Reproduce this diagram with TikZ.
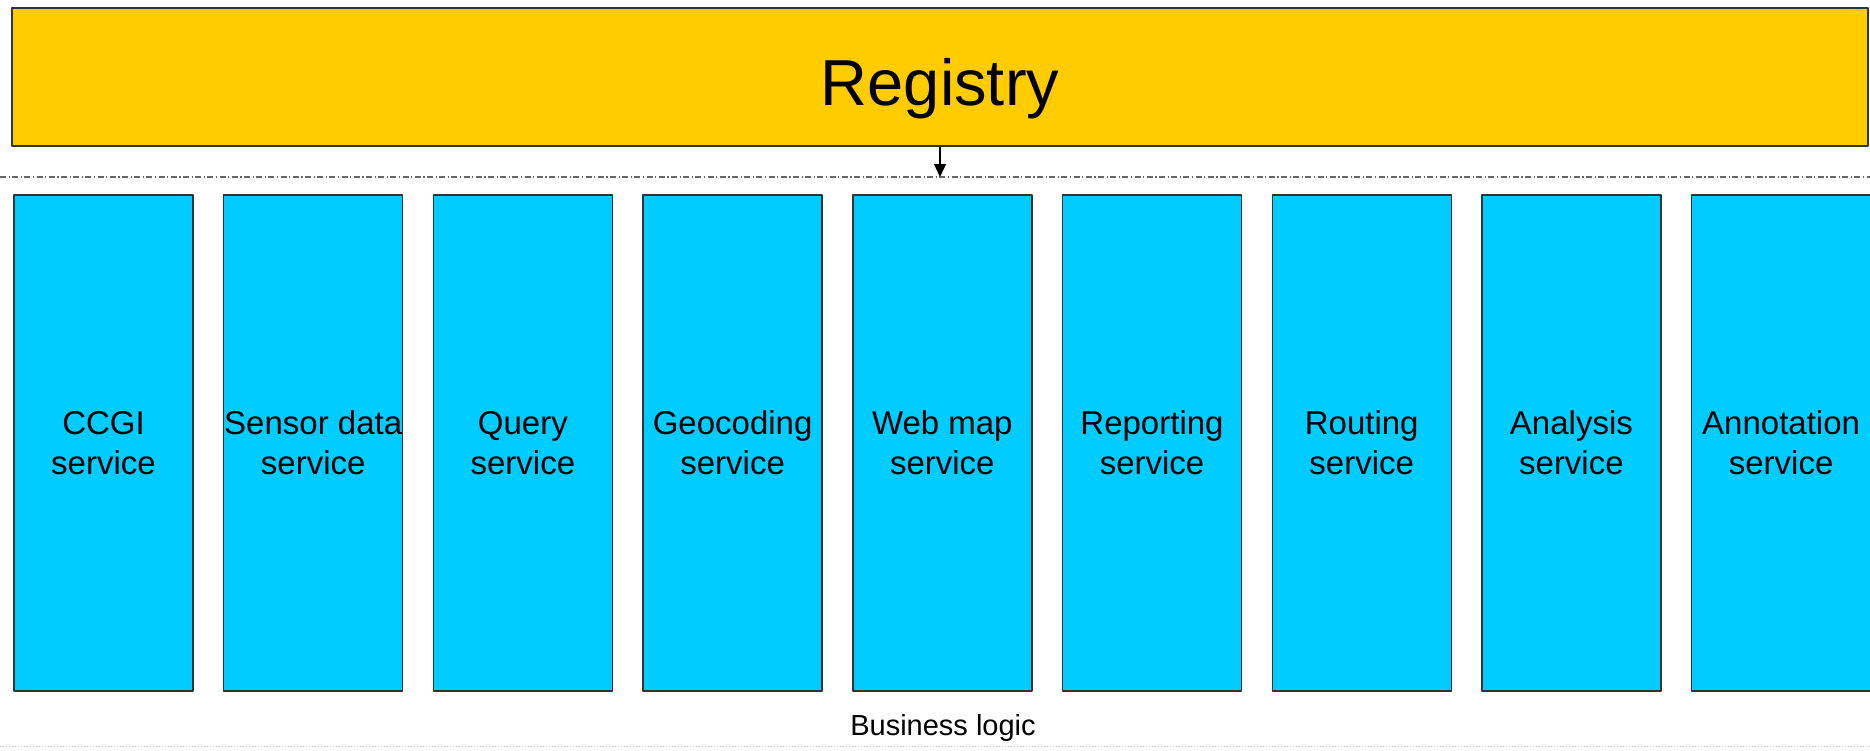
\documentclass[tikz,border=0pt]{standalone}
\usepackage{xcolor}
\usepackage{fontspec}
\setmainfont{Liberation Sans}
\usepackage{tikz}
\usetikzlibrary{arrows.meta}

\definecolor{regyellow}{HTML}{FFCC00}
\definecolor{svcblue}{HTML}{00CCFF}

\tikzset{
  registrybox/.style={draw=black!80,line width=1.4pt,fill=regyellow,minimum width=1856pt,minimum height=138pt,inner sep=0pt,text height=71pt,text depth=14pt,font=\fontsize{65}{78}\selectfont},
  servicebox/.style={draw=black!80,line width=1.4pt,fill=svcblue,minimum width=179pt,minimum height=496pt,inner sep=0pt,align=center,font=\fontsize{33}{40}\selectfont},
  laneline/.style={draw=black!60,line width=1.2pt,dash pattern=on 6pt off 2.5pt on 1.2pt off 2.5pt}
}

\begin{document}
\begin{tikzpicture}[line join=round,x=1pt,y=-1pt]
			\useasboundingbox (0,0) rectangle (1870,750);
			\node[registrybox] (reg) at (940,77) {Registry};
			\coordinate (laneL) at (0,177);
			\coordinate (laneR) at (1870,177);
			\draw [laneline] (laneL) -- (laneR);
			\draw [-{Triangle[length=13pt,width=12pt]},line width=1.3pt] (reg.south) -- (reg.south |- laneL);
			\node[servicebox] (ccgi) at (103.5,443) {CCGI\\service};
			\node[servicebox] (sensor) at (313.2,443) {Sensor data\\service};
			\node[servicebox] (query) at (522.9,443) {Query\\service};
			\node[servicebox] (geocode) at (732.6,443) {Geocoding\\service};
			\node[servicebox] (webmap) at (942.3,443) {Web map\\service};
			\node[servicebox] (report) at (1152,443) {Reporting\\service};
			\node[servicebox] (routing) at (1361.7,443) {Routing\\service};
			\node[servicebox] (analysis) at (1571.4,443) {Analysis\\service};
			\node[servicebox] (annot) at (1781.1,443) {Annotation\\service};
			\node[anchor=base,font=\fontsize{29}{35}\selectfont] (blogic) at (943,735) {Business logic};
			\draw [black!20,line width=1pt,dotted] (0,746) -- (1870,746);
\end{tikzpicture}
\end{document}
